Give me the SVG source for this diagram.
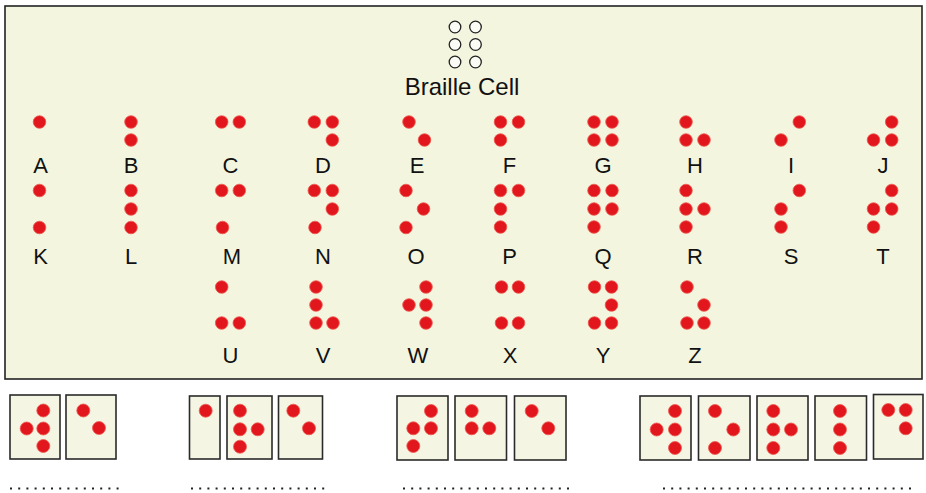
<svg xmlns="http://www.w3.org/2000/svg" width="926" height="493" viewBox="0 0 926 493">
<style>
.panel{fill:#f4f5df;stroke:#222;stroke-width:1.6}
.box{fill:#f5f5e4;stroke:#2a2a2a;stroke-width:1.6}
.dot{fill:#e2161d;stroke:#ee5a50;stroke-width:0.8}
.cell{fill:#fbfbf6;stroke:#222;stroke-width:1.3}
.lbl{font-family:"Liberation Sans",Arial,sans-serif;font-size:22px;fill:#111;text-anchor:middle}
.title{font-family:"Liberation Sans",Arial,sans-serif;font-size:24px;fill:#111;text-anchor:middle}
.blank{stroke:#222;stroke-width:2;stroke-dasharray:2 6.2}
</style>
<rect width="926" height="493" fill="#ffffff"/>
<rect class="panel" x="5" y="6" width="917" height="373"/>
<g id="connectors"/>
<g id="braille-cell">
<circle class="cell" cx="455" cy="27" r="5.8"/><circle class="cell" cx="475.5" cy="27" r="5.8"/>
<circle class="cell" cx="455" cy="44.5" r="5.8"/><circle class="cell" cx="475.5" cy="44.5" r="5.8"/>
<circle class="cell" cx="455" cy="62" r="5.8"/><circle class="cell" cx="475.5" cy="62" r="5.8"/>
<text class="title" x="462" y="95">Braille Cell</text>
</g>
<g id="letter-A"><circle class="dot" cx="39.5" cy="122" r="6.3"/><text class="lbl" x="40.5" y="173">A</text></g>
<g id="letter-B"><circle class="dot" cx="131" cy="122" r="6.3"/><circle class="dot" cx="131" cy="140" r="6.3"/><text class="lbl" x="131" y="173">B</text></g>
<g id="letter-C"><circle class="dot" cx="221.7" cy="122" r="6.3"/><circle class="dot" cx="239.3" cy="122" r="6.3"/><text class="lbl" x="230.5" y="173">C</text></g>
<g id="letter-D"><circle class="dot" cx="314.3" cy="122" r="6.3"/><circle class="dot" cx="332.3" cy="122" r="6.3"/><circle class="dot" cx="332.3" cy="140" r="6.3"/><text class="lbl" x="323" y="173">D</text></g>
<g id="letter-E"><circle class="dot" cx="409" cy="122" r="6.3"/><circle class="dot" cx="424.5" cy="140" r="6.3"/><text class="lbl" x="417" y="173">E</text></g>
<g id="letter-F"><circle class="dot" cx="500.5" cy="122" r="6.3"/><circle class="dot" cx="518.5" cy="122" r="6.3"/><circle class="dot" cx="500.5" cy="140" r="6.3"/><text class="lbl" x="509.5" y="173">F</text></g>
<g id="letter-G"><circle class="dot" cx="594" cy="122" r="6.3"/><circle class="dot" cx="612" cy="122" r="6.3"/><circle class="dot" cx="594" cy="140" r="6.3"/><circle class="dot" cx="612" cy="140" r="6.3"/><text class="lbl" x="603" y="173">G</text></g>
<g id="letter-H"><circle class="dot" cx="686" cy="122" r="6.3"/><circle class="dot" cx="686" cy="140" r="6.3"/><circle class="dot" cx="704" cy="140" r="6.3"/><text class="lbl" x="695" y="173">H</text></g>
<g id="letter-I"><circle class="dot" cx="799.3" cy="122" r="6.3"/><circle class="dot" cx="781" cy="140" r="6.3"/><text class="lbl" x="791" y="173">I</text></g>
<g id="letter-J"><circle class="dot" cx="891.7" cy="122" r="6.3"/><circle class="dot" cx="873.5" cy="140" r="6.3"/><circle class="dot" cx="891.7" cy="140" r="6.3"/><text class="lbl" x="883" y="173">J</text></g>
<g id="letter-K"><circle class="dot" cx="39.5" cy="190.5" r="6.3"/><circle class="dot" cx="39.5" cy="227.5" r="6.3"/><text class="lbl" x="40.5" y="264">K</text></g>
<g id="letter-L"><circle class="dot" cx="131" cy="190.5" r="6.3"/><circle class="dot" cx="131" cy="209" r="6.3"/><circle class="dot" cx="131" cy="227.5" r="6.3"/><text class="lbl" x="131" y="264">L</text></g>
<g id="letter-M"><circle class="dot" cx="221.7" cy="190.5" r="6.3"/><circle class="dot" cx="239.3" cy="190.5" r="6.3"/><circle class="dot" cx="222.5" cy="227.5" r="6.3"/><text class="lbl" x="232" y="264">M</text></g>
<g id="letter-N"><circle class="dot" cx="314.3" cy="190.5" r="6.3"/><circle class="dot" cx="332.3" cy="190.5" r="6.3"/><circle class="dot" cx="332.3" cy="209" r="6.3"/><circle class="dot" cx="315" cy="227.5" r="6.3"/><text class="lbl" x="323" y="264">N</text></g>
<g id="letter-O"><circle class="dot" cx="406" cy="190.5" r="6.3"/><circle class="dot" cx="423.5" cy="209" r="6.3"/><circle class="dot" cx="406" cy="227.5" r="6.3"/><text class="lbl" x="416" y="264">O</text></g>
<g id="letter-P"><circle class="dot" cx="500.5" cy="190.5" r="6.3"/><circle class="dot" cx="518.5" cy="190.5" r="6.3"/><circle class="dot" cx="500.5" cy="209" r="6.3"/><circle class="dot" cx="500.5" cy="227" r="6.3"/><text class="lbl" x="509.5" y="264">P</text></g>
<g id="letter-Q"><circle class="dot" cx="594" cy="190.5" r="6.3"/><circle class="dot" cx="612" cy="190.5" r="6.3"/><circle class="dot" cx="594" cy="209" r="6.3"/><circle class="dot" cx="612" cy="209" r="6.3"/><circle class="dot" cx="594" cy="227" r="6.3"/><text class="lbl" x="603" y="264">Q</text></g>
<g id="letter-R"><circle class="dot" cx="686" cy="190.5" r="6.3"/><circle class="dot" cx="686" cy="209" r="6.3"/><circle class="dot" cx="704" cy="209" r="6.3"/><circle class="dot" cx="686" cy="227" r="6.3"/><text class="lbl" x="695" y="264">R</text></g>
<g id="letter-S"><circle class="dot" cx="799.3" cy="190.5" r="6.3"/><circle class="dot" cx="781" cy="209" r="6.3"/><circle class="dot" cx="781" cy="227" r="6.3"/><text class="lbl" x="791" y="264">S</text></g>
<g id="letter-T"><circle class="dot" cx="891.7" cy="190.5" r="6.3"/><circle class="dot" cx="873.5" cy="209" r="6.3"/><circle class="dot" cx="891.7" cy="209" r="6.3"/><circle class="dot" cx="873.5" cy="227" r="6.3"/><text class="lbl" x="883" y="264">T</text></g>
<g id="letter-U"><circle class="dot" cx="221.7" cy="287" r="6.3"/><circle class="dot" cx="221.7" cy="323" r="6.3"/><circle class="dot" cx="239.3" cy="323" r="6.3"/><text class="lbl" x="230.5" y="363">U</text></g>
<g id="letter-V"><circle class="dot" cx="316" cy="287" r="6.3"/><circle class="dot" cx="316" cy="305" r="6.3"/><circle class="dot" cx="316" cy="323" r="6.3"/><circle class="dot" cx="333" cy="323" r="6.3"/><text class="lbl" x="323" y="363">V</text></g>
<g id="letter-W"><circle class="dot" cx="426" cy="287" r="6.3"/><circle class="dot" cx="409" cy="305" r="6.3"/><circle class="dot" cx="426" cy="305" r="6.3"/><circle class="dot" cx="426" cy="323" r="6.3"/><text class="lbl" x="418" y="363">W</text></g>
<g id="letter-X"><circle class="dot" cx="501.5" cy="287" r="6.3"/><circle class="dot" cx="518.5" cy="287" r="6.3"/><circle class="dot" cx="501.5" cy="323" r="6.3"/><circle class="dot" cx="518.5" cy="323" r="6.3"/><text class="lbl" x="510" y="363">X</text></g>
<g id="letter-Y"><circle class="dot" cx="594.5" cy="287" r="6.3"/><circle class="dot" cx="611.5" cy="287" r="6.3"/><circle class="dot" cx="611.5" cy="305" r="6.3"/><circle class="dot" cx="594.5" cy="323" r="6.3"/><circle class="dot" cx="611.5" cy="323" r="6.3"/><text class="lbl" x="603" y="363">Y</text></g>
<g id="letter-Z"><circle class="dot" cx="687" cy="287" r="6.3"/><circle class="dot" cx="704" cy="305" r="6.3"/><circle class="dot" cx="687" cy="323" r="6.3"/><circle class="dot" cx="704" cy="323" r="6.3"/><text class="lbl" x="695" y="363">Z</text></g>
<g id="word-box-1"><rect class="box" x="10" y="395" width="50" height="64"/><circle class="dot" cx="43.3" cy="410.5" r="6.5"/><circle class="dot" cx="26.7" cy="428.5" r="6.5"/><circle class="dot" cx="43.3" cy="428.5" r="6.5"/><circle class="dot" cx="43.3" cy="446" r="6.5"/></g>
<g id="word-box-2"><rect class="box" x="66" y="395" width="50" height="64"/><circle class="dot" cx="83.3" cy="410.5" r="6.5"/><circle class="dot" cx="99" cy="428" r="6.5"/></g>
<g id="word-box-3"><rect class="box" x="189.5" y="396" width="30.5" height="63"/><circle class="dot" cx="205.7" cy="410.7" r="6.5"/></g>
<g id="word-box-4"><rect class="box" x="227" y="396" width="45" height="63"/><circle class="dot" cx="240" cy="410.7" r="6.5"/><circle class="dot" cx="240" cy="429.3" r="6.5"/><circle class="dot" cx="257.7" cy="429.3" r="6.5"/><circle class="dot" cx="240" cy="446.7" r="6.5"/></g>
<g id="word-box-5"><rect class="box" x="278.5" y="396" width="44" height="63"/><circle class="dot" cx="293.3" cy="410.7" r="6.5"/><circle class="dot" cx="309" cy="428.3" r="6.5"/></g>
<g id="word-box-6"><rect class="box" x="397" y="396" width="51" height="64"/><circle class="dot" cx="431" cy="411" r="6.5"/><circle class="dot" cx="413.3" cy="428.3" r="6.5"/><circle class="dot" cx="431" cy="428.3" r="6.5"/><circle class="dot" cx="413.3" cy="446" r="6.5"/></g>
<g id="word-box-7"><rect class="box" x="455" y="396" width="51.5" height="64"/><circle class="dot" cx="471.7" cy="411" r="6.5"/><circle class="dot" cx="471.7" cy="428.3" r="6.5"/><circle class="dot" cx="489.3" cy="428.3" r="6.5"/></g>
<g id="word-box-8"><rect class="box" x="514.5" y="396" width="51.5" height="64"/><circle class="dot" cx="531.7" cy="411" r="6.5"/><circle class="dot" cx="548.3" cy="428.3" r="6.5"/></g>
<g id="word-box-9"><rect class="box" x="640" y="396" width="51" height="64"/><circle class="dot" cx="675" cy="411" r="6.5"/><circle class="dot" cx="656.7" cy="429.5" r="6.5"/><circle class="dot" cx="675" cy="429.5" r="6.5"/><circle class="dot" cx="675" cy="448" r="6.5"/></g>
<g id="word-box-10"><rect class="box" x="698.5" y="396" width="51.5" height="64"/><circle class="dot" cx="715" cy="411" r="6.5"/><circle class="dot" cx="733.3" cy="429.5" r="6.5"/><circle class="dot" cx="715" cy="448" r="6.5"/></g>
<g id="word-box-11"><rect class="box" x="757" y="396" width="51" height="64"/><circle class="dot" cx="773.3" cy="411" r="6.5"/><circle class="dot" cx="773.3" cy="429.5" r="6.5"/><circle class="dot" cx="791" cy="429.5" r="6.5"/><circle class="dot" cx="773.3" cy="448" r="6.5"/></g>
<g id="word-box-12"><rect class="box" x="815" y="396" width="51.5" height="64"/><circle class="dot" cx="840" cy="411" r="6.5"/><circle class="dot" cx="840" cy="429.5" r="6.5"/><circle class="dot" cx="840" cy="448" r="6.5"/></g>
<g id="word-box-13"><rect class="box" x="873.5" y="394.5" width="49.5" height="64.5"/><circle class="dot" cx="888.3" cy="410" r="6.5"/><circle class="dot" cx="905.7" cy="410" r="6.5"/><circle class="dot" cx="905.7" cy="428.3" r="6.5"/></g>
<g id="blanks">
<line class="blank" x1="10" y1="488.5" x2="120" y2="488.5"/>
<line class="blank" x1="191" y1="488.5" x2="327" y2="488.5"/>
<line class="blank" x1="403" y1="488.5" x2="575" y2="488.5"/>
<line class="blank" x1="663" y1="488.5" x2="915" y2="488.5"/>
</g>
</svg>
